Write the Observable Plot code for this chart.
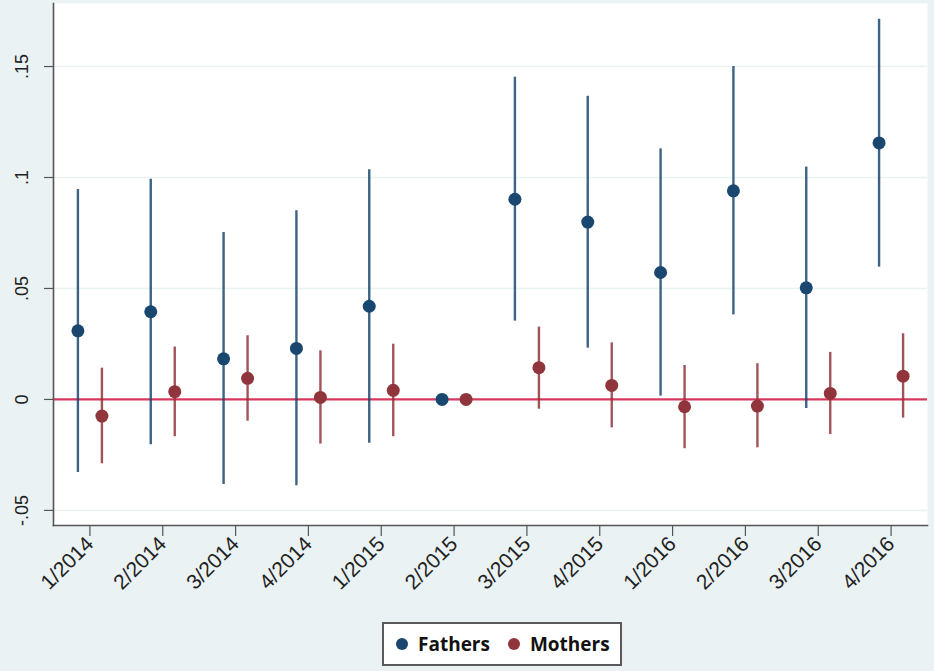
<!DOCTYPE html>
<html>
<head>
<meta charset="utf-8">
<script src="https://cdn.jsdelivr.net/npm/d3@7"></script>
<script src="https://cdn.jsdelivr.net/npm/@observablehq/plot@0.6"></script>
<style>
  html, body { margin: 0; padding: 0; background: #eaf2f3; }
  #wrap { position: relative; width: 934px; height: 671px; overflow: hidden; }
  #legend { position: absolute; left: 382px; top: 622px; width: 236px; height: 40px;
    background: #fff; border: 2px solid #5a5a5a; box-sizing: content-box;
    font-family: "Open Sans", sans-serif; font-weight: 700; font-size: 19px; color: #111;
    display: flex; align-items: center; }
  #legend .item { display: flex; align-items: center; }
  #legend .dot { width: 12px; height: 12px; border-radius: 50%; display: inline-block; margin: 0 10px 0 0; }
</style>
</head>
<body>
<div id="wrap"><div id="chart"></div><div id="legend"></div></div>
<script>
const periods = ["1/2014","2/2014","3/2014","4/2014","1/2015","2/2015","3/2015","4/2015","1/2016","2/2016","3/2016","4/2016"];
const fathersEst = [0.0309, 0.0395, 0.0183, 0.0230, 0.0420, 0, 0.0902, 0.0799, 0.0572, 0.0940, 0.0503, 0.1156];
const fathersLo  = [-0.0329, -0.0204, -0.0383, -0.0389, -0.0197, 0, 0.0353, 0.0231, 0.0015, 0.0381, -0.0041, 0.0596];
const fathersHi  = [0.0946, 0.0992, 0.0752, 0.0850, 0.1035, 0, 0.1452, 0.1366, 0.1129, 0.1500, 0.1047, 0.1713];
const mothersEst = [-0.0075, 0.0035, 0.0095, 0.0009, 0.0041, 0, 0.0143, 0.0063, -0.0033, -0.0030, 0.0027, 0.0105];
const mothersLo  = [-0.0290, -0.0168, -0.0098, -0.0201, -0.0168, 0, -0.0044, -0.0128, -0.0222, -0.0218, -0.0158, -0.0084];
const mothersHi  = [0.0141, 0.0236, 0.0287, 0.0219, 0.0249, 0, 0.0326, 0.0255, 0.0153, 0.0161, 0.0212, 0.0296];
const yTicks = [-0.05, 0, 0.05, 0.1, 0.15];
const yTickLabels = ["-.05", "0", ".05", ".1", ".15"];
const seriesNames = ["Fathers", "Mothers"];
const seriesColors = ["#1a476f", "#90353b"];

const fathers = periods.map((p, i) => ({period: p, est: fathersEst[i], lo: fathersLo[i], hi: fathersHi[i]}));
const mothers = periods.map((p, i) => ({period: p, est: mothersEst[i], lo: mothersLo[i], hi: mothersHi[i]}));
const fathersCI = fathers.filter(d => d.lo !== d.hi);
const mothersCI = mothers.filter(d => d.lo !== d.hi);

const chart = Plot.plot({
  width: 934,
  height: 615,
  marginLeft: 53,
  marginRight: 7,
  marginTop: 3,
  marginBottom: 90,
  style: {background: "transparent", fontFamily: "Liberation Sans, Arial, sans-serif"},
  x: {type: "band", domain: periods, padding: 0, round: false, label: null},
  y: {domain: [-0.0568, 0.1784], label: null},
  marks: [
    Plot.frame({fill: "white", stroke: null}),
    Plot.gridY(yTicks, {stroke: "#eaf2f3", strokeOpacity: 1, strokeWidth: 1.5}),
    Plot.ruleY([0], {stroke: "#d7385f", strokeWidth: 2.2}),
    Plot.ruleX(fathersCI, {x: "period", y1: "lo", y2: "hi", dx: -12, stroke: seriesColors[0], strokeWidth: 2.4, strokeOpacity: 0.85}),
    Plot.ruleX(mothersCI, {x: "period", y1: "lo", y2: "hi", dx: 12, stroke: seriesColors[1], strokeWidth: 2.4, strokeOpacity: 0.85}),
    Plot.dot(fathers, {x: "period", y: "est", dx: -12, r: 6.5, fill: seriesColors[0], stroke: null}),
    Plot.dot(mothers, {x: "period", y: "est", dx: 12, r: 6.5, fill: seriesColors[1], stroke: null}),
    Plot.axisY({ticks: yTicks, tickFormat: (d) => yTickLabels[yTicks.indexOf(d)], tickSize: 9, tickPadding: 17,
      tickRotate: -90, fontSize: 18, fill: "#222", stroke: "#555", strokeWidth: 1.2}),
    Plot.axisX({tickSize: 11, tickPadding: 4, tickRotate: -45, fontSize: 21, fill: "#222", stroke: "#555", strokeWidth: 1.2}),
    Plot.frame({anchor: "left", stroke: "#555", strokeWidth: 1.6}),
    Plot.frame({anchor: "bottom", stroke: "#555", strokeWidth: 1.6})
  ]
});
document.getElementById("chart").appendChild(chart);

const legend = document.getElementById("legend");
seriesNames.forEach((name, i) => {
  const item = document.createElement("span");
  item.className = "item";
  item.style.marginLeft = i === 0 ? "12px" : "18px";
  const dot = document.createElement("span");
  dot.className = "dot";
  dot.style.background = seriesColors[i];
  item.appendChild(dot);
  item.appendChild(document.createTextNode(name));
  legend.appendChild(item);
});
</script>
</body>
</html>
